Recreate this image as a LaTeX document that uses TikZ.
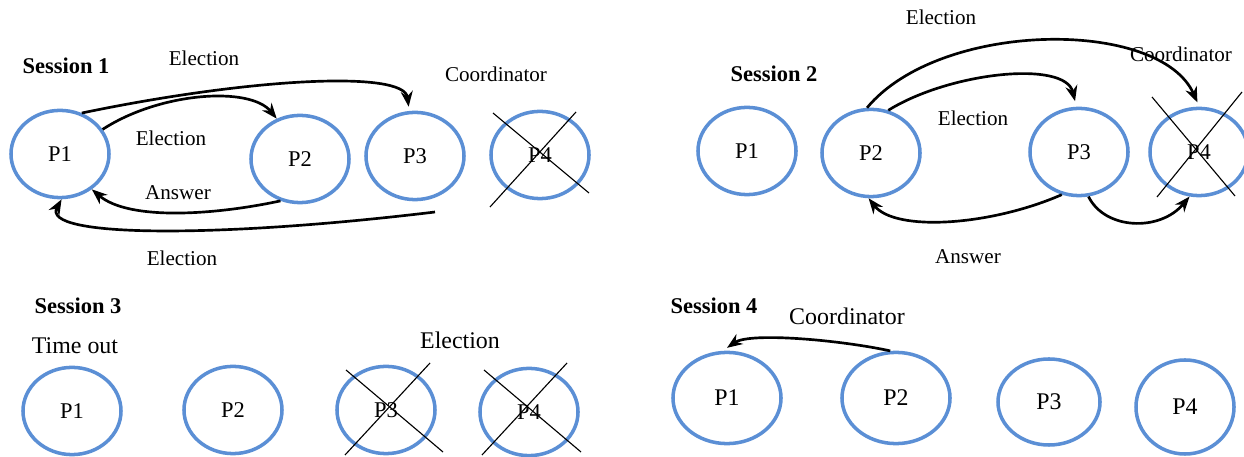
\documentclass[tikz,border=0pt]{standalone}
\usepackage{fontspec}
\setmainfont{Liberation Serif}
\usepackage{xcolor}
\usetikzlibrary{shapes.geometric, arrows.meta}
\definecolor{procblue}{RGB}{91,143,213}
\tikzset{
    proc/.style={ellipse, draw=procblue, line width=2.5pt, inner sep=0pt, minimum width=2.45cm, minimum height=2.18cm, font=\fontsize{16}{19}\selectfont},
    bigproc/.style={proc, minimum width=2.7cm, minimum height=2.28cm, font=\fontsize{17}{20}\selectfont},
    msg/.style={-{Stealth[length=11pt,width=8.5pt]}, line width=1.9pt},
    crossline/.style={line width=0.8pt},
    lbl/.style={font=\fontsize{15}{18}\selectfont},
    biglbl/.style={font=\fontsize{17}{20}\selectfont},
    sess/.style={font=\fontsize{16}{19}\selectfont\bfseries}
}
\begin{document}
\begin{tikzpicture}[x=0.025cm, y=-0.025cm]
    \useasboundingbox (0,0) rectangle (1244,457);
    \node[sess] (s1) at (66,66) {Session 1};
    \node[proc] (s1p1) at (60,154) {P1};
    \node[proc] (s1p2) at (300,159) {P2};
    \node[proc] (s1p3) at (415,156) {P3};
    \node[proc] (s1p4) at (540,155) {P4};
    \draw[crossline] ([shift={(-47,-42)}]s1p4.center) -- ([shift={(49,38)}]s1p4.center);
    \draw[crossline] ([shift={(-50,52)}]s1p4.center) -- ([shift={(36,-43)}]s1p4.center);
    \node[lbl] (s1e1) at (204,58) {Election};
    \node[lbl] (s1co) at (496,74) {Coordinator};
    \node[lbl] (s1e2) at (171,138) {Election};
    \node[lbl] (s1an) at (178,193) {Answer};
    \node[lbl] (s1e3) at (182,258) {Election};
    \coordinate (s1out) at (435,212);
    \draw[msg] (s1p1.62) .. controls (250,78) and (404,70) .. ([yshift=3pt]s1p3.98);
    \draw[msg] (s1p1.30) .. controls (160,92) and (250,86) .. (s1p2.120);
    \draw[msg] (s1p2.245) .. controls (220,214) and (130,222) .. (s1p1.-48);
    \draw[msg] (s1out) .. controls (220,238) and (40,238) .. (s1p1.-88);

    \node[sess] (s2) at (774,74) {Session 2};
    \node[proc] (s2p1) at (747,151) {P1};
    \node[proc] (s2p2) at (871,153) {P2};
    \node[proc] (s2p3) at (1079,152) {P3};
    \node[proc] (s2p4) at (1199,152) {P4};
    \draw[crossline] ([shift={(-47,-55)}]s2p4.center) -- ([shift={(36,44)}]s2p4.center);
    \draw[crossline] ([shift={(-42,45)}]s2p4.center) -- ([shift={(43,-60)}]s2p4.center);
    \node[lbl] (s2e1) at (941,17) {Election};
    \node[lbl] (s2co) at (1181,54) {Coordinator};
    \node[lbl] (s2e2) at (973,118) {Election};
    \node[lbl] (s2an) at (968,257) {Answer};
    \draw[msg] (s2p2.95) .. controls (940,20) and (1160,18) .. ([yshift=3pt]s2p4.92);
    \draw[msg] (s2p2.68) .. controls (950,72) and (1065,60) .. ([yshift=4pt]s2p3.95);
    \draw[msg] (s2p3.-112) .. controls (990,226) and (895,232) .. (s2p2.-93);
    \draw[msg] (s2p3.-78) .. controls (1105,230) and (1160,232) .. (s2p4.-102);

    \node[sess] (s3) at (78,306) {Session 3};
    \node[biglbl] (s3to) at (75,346) {Time out};
    \node[biglbl] (s3el) at (460,340) {Election};
    \node[proc] (s3p1) at (72,411) {P1};
    \node[proc] (s3p2) at (233,410) {P2};
    \node[proc] (s3p3) at (386,410) {P3};
    \node[proc] (s3p4) at (529,412) {P4};
    \draw[crossline] ([shift={(-40,-40)}]s3p3.center) -- ([shift={(57,42)}]s3p3.center);
    \draw[crossline] ([shift={(-41,45)}]s3p3.center) -- ([shift={(44,-47)}]s3p3.center);
    \draw[crossline] ([shift={(-45,-42)}]s3p4.center) -- ([shift={(52,40)}]s3p4.center);
    \draw[crossline] ([shift={(-47,43)}]s3p4.center) -- ([shift={(38,-49)}]s3p4.center);

    \node[sess] (s4) at (714,306) {Session 4};
    \node[biglbl] (s4co) at (847,316) {Coordinator};
    \node[bigproc] (s4p1) at (727,398) {P1};
    \node[bigproc] (s4p2) at (896,398) {P2};
    \node[bigproc, minimum width=2.55cm, minimum height=2.15cm] (s4p3) at (1049,402) {P3};
    \node[bigproc, minimum width=2.45cm, minimum height=2.35cm] (s4p4) at (1185,407) {P4};
    \draw[msg] (s4p2.97) .. controls (840,340) and (750,332) .. ([yshift=2pt]s4p1.90);
\end{tikzpicture}
\end{document}
